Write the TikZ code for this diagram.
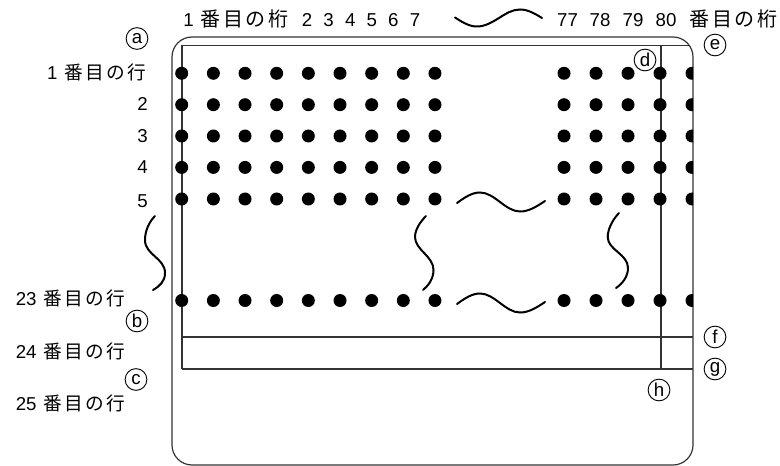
\documentclass[tikz,border=0pt]{standalone}
\usepackage{fontspec}
\setmainfont{Liberation Sans}
\newfontfamily\jp{Noto Sans CJK JP}
\newcommand\kj[1]{\makebox[15.9pt]{\jp #1}}
\newcommand\kjw[1]{\makebox[16.9pt]{\jp\fontsize{15}{16}\selectfont #1}}
\newcommand\gyou{\kj{番}\kj{目}\kj{の}\kj{行}}
\newcommand\keta{\kjw{番}\kjw{目}\kjw{の}\kjw{桁}}
\begin{document}
\begin{tikzpicture}[x=0.75pt,y=-0.75pt,
  frame/.style={line width=0.9pt, draw=black!80},
  wave/.style={line width=1.5pt, line cap=round},
  lbl/.style={font=\fontsize{14}{16}\selectfont, inner sep=0pt},
  circ/.style={circle, draw, line width=0.7pt, minimum size=16.3pt, inner sep=0pt, font=\fontsize{14}{16}\selectfont},
  hole/.style={fill=black}]
\useasboundingbox (0,0) rectangle (780,466);
% outer card
\draw[frame, rounded corners=15pt] (172,37) rectangle (693,465);
\begin{scope}
  \clip[rounded corners=15pt] (172,37) rectangle (693,465);
  \draw[frame] (182,369) -- (182,45.5) -- (700,45.5);
  \draw[frame] (661,45.5) -- (661,369);
  \draw[frame] (182,337) -- (693,337);
  \draw[frame] (182,369) -- (693,369);
  \foreach \y in {73.3,104.7,136,167.4,199,300.5}{
    \foreach \i in {0,...,8}{\fill[hole] (181.7+31.66*\i,\y) circle[radius=6.5];}
    \foreach \x in {564,596,628,660,692}{\fill[hole] (\x,\y) circle[radius=6.5];}
  }
\end{scope}
% waves
\draw[wave] (455,17.5) sin (477,26.5) cos (499,18) sin (520,9.5) cos (542,18);
\foreach \dy in {0,101}{
  \draw[wave] (457,203+\dy) sin (480,192.5+\dy) cos (500,202+\dy) sin (520,211.5+\dy) cos (545,201+\dy);
}
\draw[wave] (426,216) .. controls (421,221) and (415,229) .. (415,237)
  .. controls (415,250) and (433.5,256) .. (433.5,270)
  .. controls (433.5,279) and (428,286) .. (423,290);
\draw[wave] (619,213) .. controls (614,218) and (607.7,228) .. (607.7,237)
  .. controls (607.7,250) and (628,254) .. (628,268)
  .. controls (628,277) and (622,284) .. (616,288);
\draw[wave] (155,216) .. controls (149,222) and (145,231) .. (145,240)
  .. controls (145,255) and (165,258) .. (165,273)
  .. controls (165,281) and (160,286) .. (153,290);
% column labels
\node[lbl, anchor=base west] (c1) at (183,26.7) {1\hspace{4.5pt}\keta};
\foreach \n/\x in {2/307,3/328.6,4/350.2,5/371.8,6/393.4,7/415}{
  \node[lbl, anchor=base] (c\n) at (\x,26.7) {\n};
}
\foreach \n/\x in {77/567.5,78/600,79/633,80/666}{
  \node[lbl, anchor=base] (c\n) at (\x,26.7) {\n};
}
\node[lbl, anchor=base east] (ck) at (779,26.7) {\keta};
% row labels
\node[lbl, anchor=base east] (r1) at (148,80) {1\hspace{4pt}\gyou};
\node[lbl, anchor=base east] (r2) at (148,111) {2};
\node[lbl, anchor=base east] (r3) at (148,142.5) {3};
\node[lbl, anchor=base east] (r4) at (148,174) {4};
\node[lbl, anchor=base east] (r5) at (148,208) {5};
\node[lbl, anchor=base east] (r23) at (127,305) {23\hspace{4pt}\gyou};
\node[lbl, anchor=base east] (r24) at (127,358.3) {24\hspace{4pt}\gyou};
\node[lbl, anchor=base east] (r25) at (127,410) {25\hspace{4pt}\gyou};
% circled letters
\node[circ] (a) at (137,38.5) {a};
\node[circ] (b) at (137,321) {b};
\node[circ] (c) at (136,379.5) {c};
\node[circ] (d) at (645,60) {d};
\node[circ] (e) at (715,45) {e};
\node[circ] (f) at (715,337) {f};
\node[circ] (g) at (715,369) {g};
\node[circ] (h) at (659,390) {h};
\end{tikzpicture}
\end{document}
